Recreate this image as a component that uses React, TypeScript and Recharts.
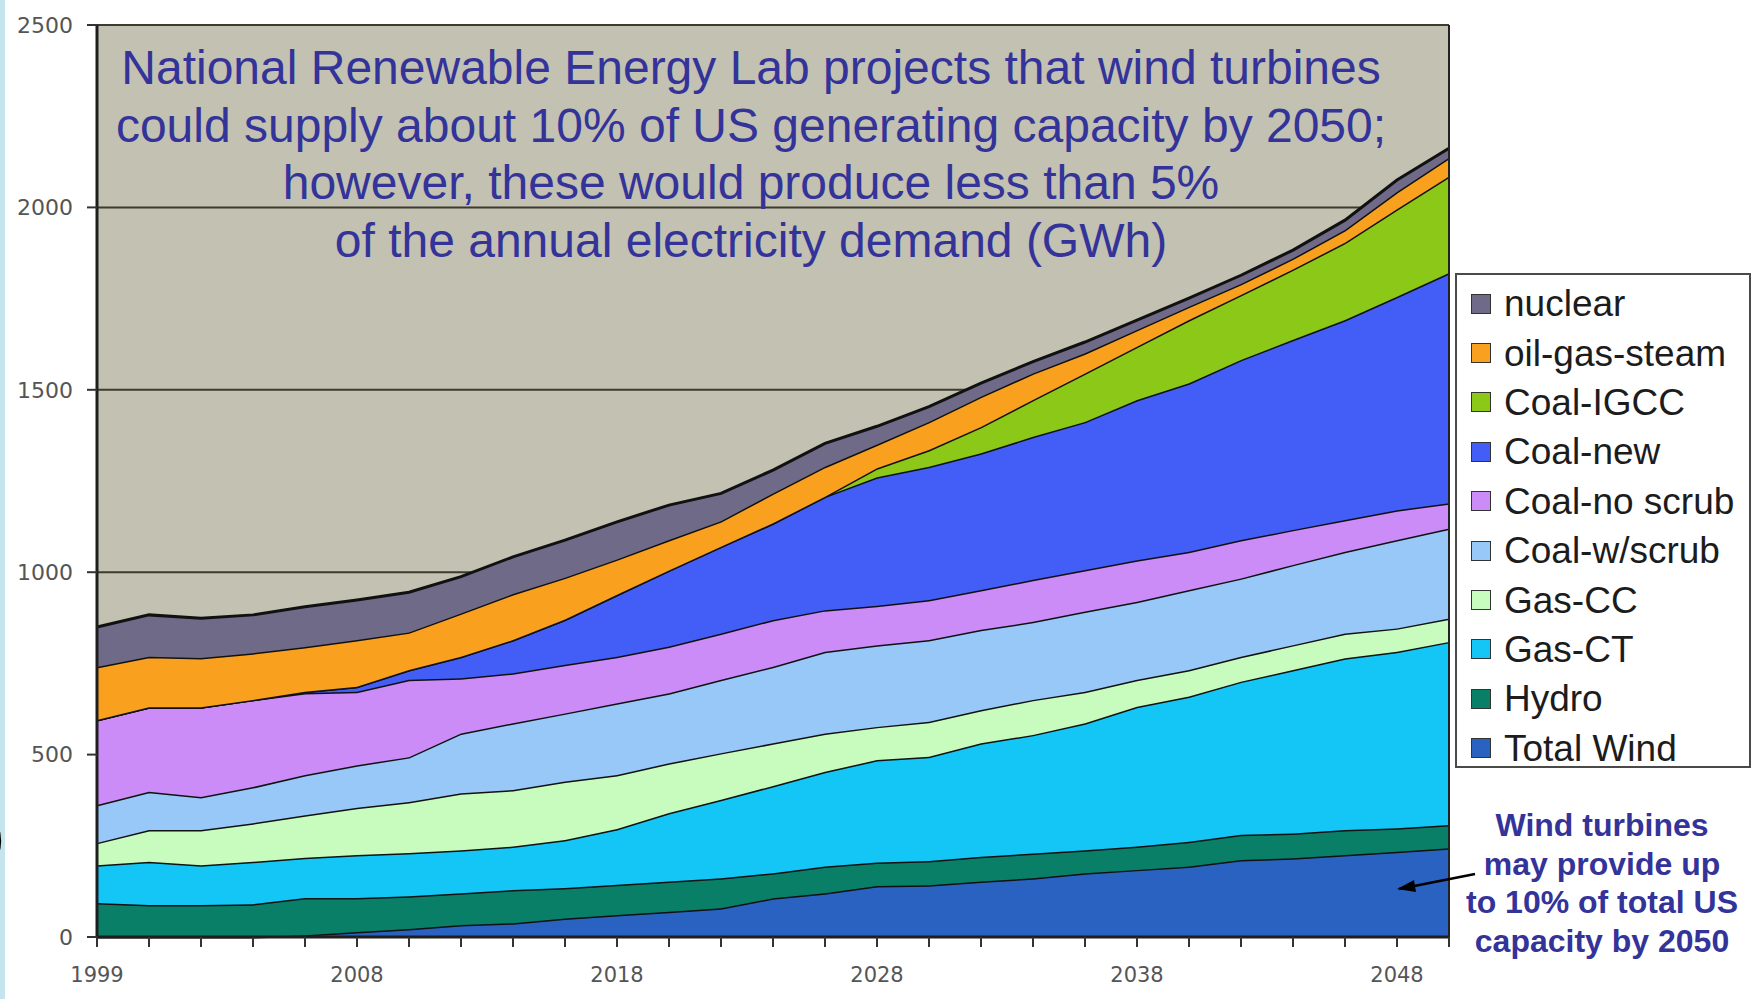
import { AreaChart, Area, XAxis, YAxis, CartesianGrid, Legend, ReferenceLine } from 'recharts';

// categories (x axis) and the years that carry a label
const YEARS = [
  '1999', '2000', '2002', '2004', '2006', '2008', '2010', '2012', '2014', '2016',
  '2018', '2020', '2022', '2024', '2026', '2028', '2030', '2032', '2034', '2036',
  '2038', '2040', '2042', '2044', '2046', '2048', '2050',
];
const TICK_LABELS = ['1999', '2008', '2018', '2028', '2038', '2048'];
const Y_TICKS = [0, 500, 1000, 1500, 2000, 2500];

// capacity by source (stacked, bottom to top)
const WIND = [0, 0, 0, 0, 5, 14, 22, 33, 38, 51, 60, 69, 79, 106, 120, 140, 142, 152, 161, 175, 184, 193, 211, 216, 225, 234, 243];
const HYDRO = [93, 88, 88, 90, 102, 93, 90, 87, 91, 83, 83, 83, 82, 69, 73, 64, 66, 68, 68, 63, 64, 68, 69, 68, 68, 64, 64];
const GAS_CT = [104, 118, 109, 116, 110, 118, 118, 118, 119, 132, 153, 188, 215, 239, 260, 281, 286, 311, 325, 348, 383, 398, 420, 448, 471, 484, 502];
const GAS_CC = [61, 87, 96, 106, 117, 129, 140, 156, 155, 160, 148, 136, 128, 117, 105, 91, 96, 91, 96, 86, 74, 73, 68, 68, 68, 64, 64];
const COAL_SCRUB = [104, 105, 91, 99, 110, 117, 123, 164, 183, 187, 197, 192, 201, 210, 224, 224, 224, 220, 214, 220, 214, 219, 215, 220, 224, 242, 247];
const COAL_NO_SCRUB = [233, 232, 246, 239, 225, 201, 212, 151, 137, 133, 127, 128, 127, 128, 114, 108, 110, 109, 115, 114, 114, 105, 105, 96, 87, 82, 69];
const COAL_NEW = [0, 0, 0, 0, 3, 14, 27, 59, 91, 124, 170, 209, 238, 265, 311, 352, 365, 375, 392, 406, 439, 462, 494, 521, 548, 585, 631];
const COAL_IGCC = [0, 0, 0, 0, 0, 0, 0, 0, 0, 0, 0, 0, 0, 0, 0, 25, 46, 72, 101, 133, 146, 173, 178, 193, 212, 240, 265];
const OIL_GAS = [145, 138, 135, 128, 123, 128, 103, 119, 126, 115, 97, 83, 70, 82, 82, 65, 77, 83, 73, 55, 46, 37, 30, 30, 35, 47, 51];
const NUCLEAR = [110, 115, 109, 105, 110, 110, 110, 101, 102, 103, 103, 96, 76, 64, 64, 50, 42, 37, 32, 31, 27, 23, 24, 23, 27, 33, 26];

const SERIES = [
  { key: 'wind', name: 'Total Wind', color: '#2a62c2', values: WIND },
  { key: 'hydro', name: 'Hydro', color: '#0a7f68', values: HYDRO },
  { key: 'gasCT', name: 'Gas-CT', color: '#14c6f5', values: GAS_CT },
  { key: 'gasCC', name: 'Gas-CC', color: '#c8fcbe', values: GAS_CC },
  { key: 'coalScrub', name: 'Coal-w/scrub', color: '#98c8f8', values: COAL_SCRUB },
  { key: 'coalNoScrub', name: 'Coal-no scrub', color: '#cc8cf8', values: COAL_NO_SCRUB },
  { key: 'coalNew', name: 'Coal-new', color: '#425ef6', values: COAL_NEW },
  { key: 'igcc', name: 'Coal-IGCC', color: '#8cc818', values: COAL_IGCC },
  { key: 'oil', name: 'oil-gas-steam', color: '#f9a11f', values: OIL_GAS },
  { key: 'nuclear', name: 'nuclear', color: '#6e6a88', values: NUCLEAR },
];

const TITLE_LINES = [
  'National Renewable Energy Lab projects that wind turbines',
  'could supply about 10% of US generating capacity by 2050;',
  'however, these would produce less than 5%',
  'of the annual electricity demand (GWh)',
];
const NOTE_LINES = ['Wind turbines', 'may provide up', 'to 10% of total US', 'capacity by 2050'];

const data = YEARS.map((year, i) => {
  const row: Record<string, string | number> = { year };
  SERIES.forEach(s => { row[s.key] = s.values[i]; });
  return row;
});

const ARIAL = '"Liberation Sans", Arial, sans-serif';
const TEXT_BLUE = '#333399';

function LegendBox() {
  return (
    <div style={{ background: '#fff', border: '2px solid #4a4a48', boxSizing: 'border-box', width: 296, height: 495, paddingTop: 4 }}>
      {[...SERIES].reverse().map(s => (
        <div key={s.key} style={{ height: 49.4, display: 'flex', alignItems: 'center' }}>
          <span style={{ display: 'inline-block', width: 18, height: 18, background: s.color, border: '1.5px solid #333', marginLeft: 14, marginRight: 13 }} />
          <span style={{ fontFamily: ARIAL, fontSize: 37, color: '#1c1c1c', lineHeight: 1, whiteSpace: 'nowrap' }}>{s.name}</span>
        </div>
      ))}
    </div>
  );
}

export default function App() {
  return (
    <div style={{ position: 'absolute', left: 0, top: 0, width: 1763, height: 999, background: '#fff', overflow: 'hidden' }}>
      <div style={{ position: 'absolute', left: 0, top: 0, width: 5, height: 999, background: '#c4e4ee' }} />
      <span style={{ position: 'absolute', left: -14, top: 806, fontFamily: ARIAL, fontSize: 56, lineHeight: '60px', color: '#000' }}>)</span>

      <AreaChart width={1763} height={999} data={data} margin={{ top: 25, right: 314, bottom: 22, left: 7 }}>
        <CartesianGrid vertical={false} fill="#c2c1b2" stroke="#3c3c2e" strokeWidth={2} fillOpacity={1} />
        <XAxis
          dataKey="year"
          interval={0}
          height={40}
          tickSize={10}
          tickMargin={20}
          axisLine={{ stroke: '#1e1e1e', strokeWidth: 3 }}
          tickLine={{ stroke: '#333', strokeWidth: 2 }}
          tick={{ fontSize: 21, fill: '#555', fontFamily: '"DejaVu Sans", sans-serif' }}
          tickFormatter={(v: string) => (TICK_LABELS.includes(v) ? v : '')}
        />
        <YAxis
          width={90}
          domain={[0, 2500]}
          ticks={Y_TICKS}
          interval={0}
          tickSize={10}
          tickMargin={14}
          axisLine={{ stroke: '#1e1e1e', strokeWidth: 3 }}
          tickLine={{ stroke: '#333', strokeWidth: 2 }}
          tick={{ fontSize: 22, fill: '#555', fontFamily: '"DejaVu Sans", sans-serif' }}
        />
        {SERIES.map(s => (
          <Area
            key={s.key}
            type="linear"
            dataKey={s.key}
            name={s.name}
            stackId="cap"
            fill={s.color}
            fillOpacity={1}
            stroke="#111"
            strokeWidth={3}
            dot={false}
            activeDot={false}
            isAnimationActive={false}
          />
        ))}
        <ReferenceLine x="2050" stroke="#222" strokeWidth={2} />
        <Legend
          layout="vertical"
          align="center"
          verticalAlign="middle"
          content={() => <LegendBox />}
          wrapperStyle={{ position: 'absolute', left: 1455, top: 273, width: 296, height: 495 }}
        />
      </AreaChart>

      <div style={{ position: 'absolute', left: 51, top: 39, width: 1400, textAlign: 'center', fontFamily: ARIAL, fontSize: 48, lineHeight: '57.7px', color: TEXT_BLUE, whiteSpace: 'nowrap', pointerEvents: 'none' }}>
        {TITLE_LINES.map(line => <div key={line}>{line}</div>)}
      </div>

      <div style={{ position: 'absolute', left: 1452, top: 806, width: 300, textAlign: 'center', fontFamily: ARIAL, fontSize: 32, fontWeight: 'bold', lineHeight: '38.7px', color: TEXT_BLUE, whiteSpace: 'nowrap' }}>
        {NOTE_LINES.map(line => <div key={line}>{line}</div>)}
      </div>

      <svg width={1763} height={999} style={{ position: 'absolute', left: 0, top: 0, pointerEvents: 'none' }}>
        <line x1={1475} y1={874} x2={1399} y2={889} stroke="#000" strokeWidth={2.5} />
        <path d="M1397,889 L1414,880 L1416,892 z" fill="#000" />
      </svg>
    </div>
  );
}
